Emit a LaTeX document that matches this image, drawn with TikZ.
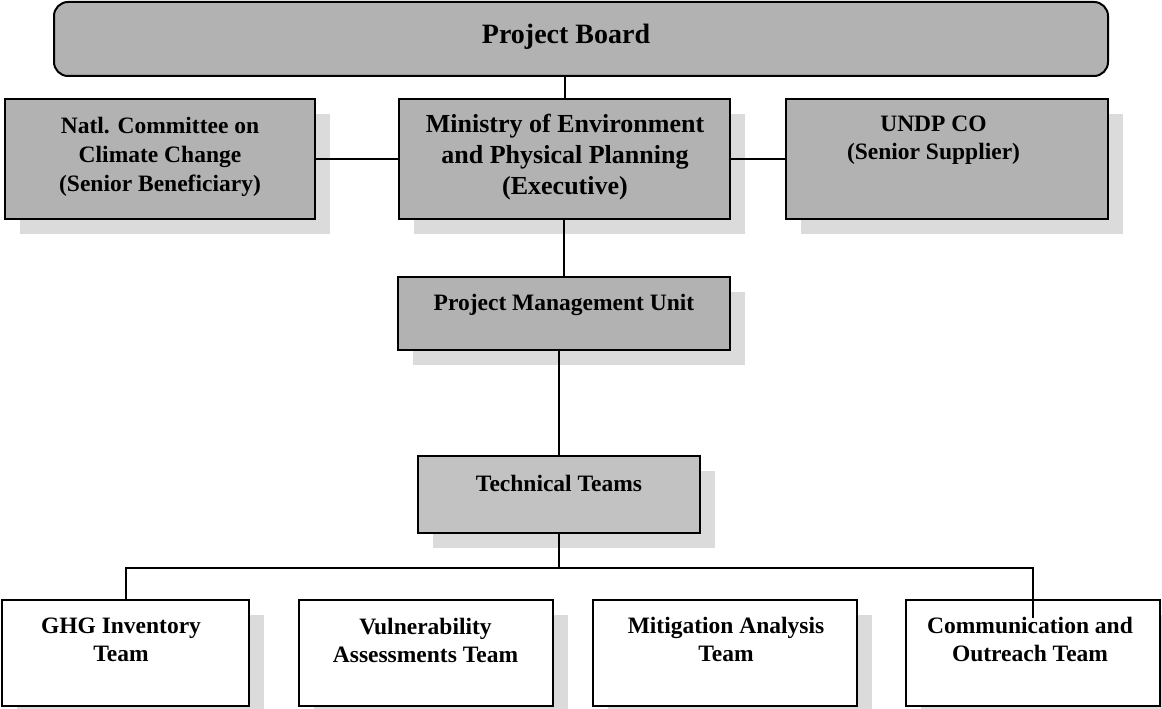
\documentclass[tikz,border=0pt]{standalone}
\usepackage{fontspec}
\setmainfont{Liberation Serif}
\usetikzlibrary{shadows,calc}
\begin{document}
\begin{tikzpicture}[x=1pt,y=-1pt,
  box/.style={draw=black, line width=2pt, rectangle, inner sep=0pt},
  greybox/.style={box, fill=black!30, drop shadow={shadow xshift=15pt, shadow yshift=-15pt, fill=black!14, opacity=1}},
  whitebox/.style={box, fill=white, drop shadow={shadow xshift=15pt, shadow yshift=-15pt, fill=black!14, opacity=1}},
  txt/.style={font=\bfseries\fontsize{23.5}{28}\selectfont, align=center, inner sep=0pt},
  conn/.style={line width=2pt, line cap=rect}
]
\fill[white] (0,0) rectangle (1162,709);
\useasboundingbox (0,0) rectangle (1162,709);

% boxes
\node[box, fill=black!30, rounded corners=14pt, minimum width=1054, minimum height=74] (board) at (581,39) {};
\node[greybox, minimum width=310, minimum height=120] (natl) at (160,159) {};
\node[greybox, minimum width=331, minimum height=120] (min) at (564.5,159) {};
\node[greybox, minimum width=322, minimum height=120] (undp) at (947,159) {};
\node[greybox, minimum width=332, minimum height=73] (pmu) at (564,313.5) {};
\node[greybox, fill=black!24, minimum width=282, minimum height=77] (tt) at (559,494) {};
\node[whitebox, minimum width=247, minimum height=106] (ghg) at (125.5,653) {};
\node[whitebox, minimum width=254, minimum height=106] (vul) at (426,653) {};
\node[whitebox, minimum width=264, minimum height=106] (mit) at (725,653) {};
\node[whitebox, minimum width=254, minimum height=106] (comm) at (1033,653) {};

% texts
\node[txt, font=\bfseries\fontsize{28}{32}\selectfont, anchor=base] (tboard) at (566,44) {Project Board};
\node[txt, font=\bfseries\fontsize{23.5}{29}\selectfont] (tnatl) at (160,157) {Natl. Committee on\\Climate Change\\(Senior Beneficiary)};
\node[txt, font=\bfseries\fontsize{26}{31}\selectfont] (tmin) at (565,157.5) {Ministry of Environment\\and Physical Planning\\(Executive)};
\node[txt] (tundp) at (933.5,140.5) {UNDP CO\\(Senior Supplier)};
\node[txt] (tpmu) at (564,305) {Project Management Unit};
\node[txt] (ttt) at (559,483) {Technical Teams};
\node[txt] (tghg) at (121,640) {GHG Inventory\\Team};
\node[txt] (tvul) at (425.5,640) {Vulnerability\\Assessments Team};
\node[txt] (tmit) at (726,639) {Mitigation Analysis\\Team};
\node[txt] (tcomm) at (1030,639) {Communication and\\Outreach Team};

% connectors
\draw[conn] (natl.east) -- (min.west);
\draw[conn] (min.east) -- (min.east -| undp.west);
\draw[conn] (min.north) -- (min.north |- board.south);
\draw[conn] (pmu.north) -- (pmu.north |- min.south);
\draw[conn] (tt.north) -- (tt.north |- pmu.south);
\coordinate (bus) at ($(tt.south)+(0,34)$);
\coordinate (cend) at ($(comm.north)+(0,18)$);
\draw[conn] (tt.south) -- (bus);
\draw[conn] (ghg.north) -- (ghg.north |- bus) -- (comm.north |- bus) -- (cend);
\end{tikzpicture}
\end{document}
